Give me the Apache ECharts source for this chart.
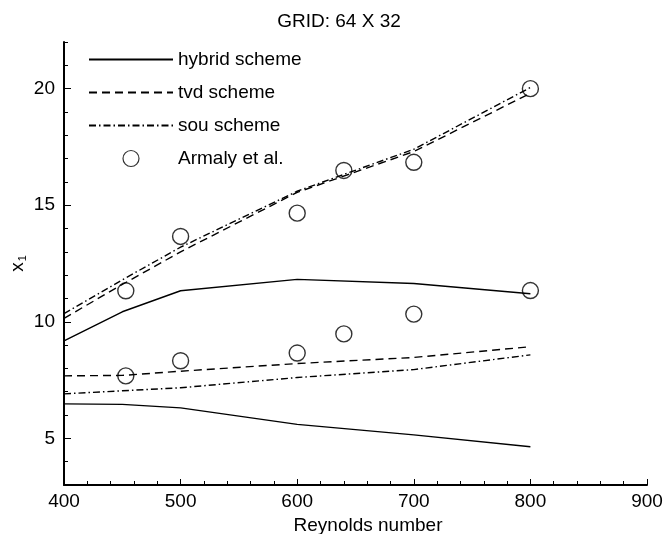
<!DOCTYPE html>
<html>
<head>
<meta charset="utf-8">
<script src="https://cdn.jsdelivr.net/npm/echarts@6/dist/echarts.min.js"></script>
<style>
  html, body { margin: 0; padding: 0; background: #fff; }
  #chart { width: 665px; height: 534px; }
</style>
</head>
<body>
<div id="chart"></div>
<script>
// Reynolds numbers of the computed curves
var reLine = [400, 450, 500, 600, 700, 800];
var hybridHigh = [9.18, 10.43, 11.33, 11.82, 11.64, 11.2];
var hybridLow = [6.48, 6.46, 6.31, 5.6, 5.15, 4.64];
var tvdHigh = [10.15, 11.6, 13.0, 15.55, 17.3, 19.8];
var tvdLow = [7.68, 7.7, 7.88, 8.21, 8.47, 8.93];
var souHigh = [10.35, 11.8, 13.2, 15.6, 17.4, 20.05];
var souLow = [6.91, 7.04, 7.17, 7.61, 7.95, 8.58];

// experiment (Armaly et al.)
var reArmaly = [453, 500, 600, 640, 700, 800];
var armalyHigh = [11.33, 13.66, 14.66, 16.49, 16.84, 20.0];
var armalyLow = [7.68, 8.33, 8.66, 9.48, 10.33, 11.34];

var yTicks = [5, 10, 15, 20];

function pairs(xs, ys) {
    var out = [];
    for (var i = 0; i < xs.length; i++) {
        out.push([xs[i], ys[i]]);
    }
    return out;
}

var font = 'Liberation Sans, Arial, Helvetica, sans-serif';

function lineSeries(name, ys, type) {
    return {
        name: name,
        type: 'line',
        data: pairs(reLine, ys),
        symbol: 'none',
        lineStyle: { color: '#000', width: 1.4, type: type },
        itemStyle: { color: '#000' },
        z: 3
    };
}

var myChart = echarts.init(document.getElementById('chart'));
myChart.setOption({
    animation: false,
    backgroundColor: '#fff',
    title: {
        text: 'GRID: 64 X 32',
        left: 334,
        textAlign: 'center',
        top: 7,
        textStyle: { fontFamily: font, fontSize: 19, fontWeight: 'normal', color: '#000' }
    },
    legend: {
        orient: 'vertical',
        left: 83,
        top: 45,
        itemWidth: 84,
        itemHeight: 16,
        itemGap: 14,
        textStyle: { fontFamily: font, fontSize: 19, lineHeight: 16, color: '#000' },
        data: [
            { name: 'hybrid scheme', itemStyle: { opacity: 0 } },
            { name: 'tvd scheme', itemStyle: { opacity: 0 } },
            { name: 'sou scheme', itemStyle: { opacity: 0 } },
            { name: 'Armaly et al.', itemStyle: { borderWidth: 1.2 } }
        ]
    },
    grid: { left: 64, right: 18, top: 42, bottom: 49, containLabel: false, outerBoundsMode: 'none' },
    xAxis: {
        type: 'value',
        min: 400,
        max: 900,
        interval: 100,
        name: 'Reynolds number',
        nameLocation: 'middle',
        nameGap: 31,
        nameMoveOverlap: false,
        nameTextStyle: { fontFamily: font, fontSize: 19, color: '#000', padding: [0, 0, 0, 25] },
        axisLine: { lineStyle: { color: '#000', width: 2 } },
        axisTick: { inside: true, length: 6, lineStyle: { color: '#000', width: 1 } },
        minorTick: { show: true, splitNumber: 5, length: 4, lineStyle: { color: '#000', width: 1 } },
        axisLabel: { fontFamily: font, fontSize: 19, color: '#000', margin: 7 },
        splitLine: { show: false }
    },
    yAxis: [{
        type: 'value',
        min: 3,
        max: 22,
        name: '{a|x}{b|1}',
        nameLocation: 'middle',
        nameRotate: 90,
        nameGap: 36,
        nameMoveOverlap: false,
        nameTextStyle: {
            rich: {
                a: { fontFamily: font, fontSize: 19, color: '#000' },
                b: { fontFamily: font, fontSize: 11, color: '#000', verticalAlign: 'bottom', padding: [9, 0, 0, 1] }
            }
        },
        axisLine: { show: true, lineStyle: { color: '#000', width: 2 } },
        axisTick: { inside: true, length: 7, customValues: yTicks, lineStyle: { color: '#000', width: 1 } },
        axisLabel: { fontFamily: font, fontSize: 19, color: '#000', margin: 9, customValues: yTicks },
        splitLine: { show: false }
    }, {
        type: 'value',
        position: 'left',
        min: 3,
        max: 22,
        interval: 1,
        axisLine: { show: false },
        axisTick: { show: true, inside: true, length: 4, lineStyle: { color: '#000', width: 1 } },
        axisLabel: { show: false },
        splitLine: { show: false }
    }],
    series: [
        lineSeries('hybrid scheme', hybridHigh, 'solid'),
        lineSeries('hybrid scheme', hybridLow, 'solid'),
        lineSeries('tvd scheme', tvdHigh, [8, 5]),
        lineSeries('tvd scheme', tvdLow, [8, 5]),
        lineSeries('sou scheme', souHigh, [7, 3, 1.5, 3]),
        lineSeries('sou scheme', souLow, [7, 3, 1.5, 3]),
        {
            name: 'Armaly et al.',
            type: 'scatter',
            data: pairs(reArmaly, armalyHigh).concat(pairs(reArmaly, armalyLow)),
            symbol: 'circle',
            symbolSize: 16,
            itemStyle: { color: 'rgba(255,255,255,0)', borderColor: '#000', borderWidth: 1.4 },
            z: 4
        }
    ]
});
</script>
</body>
</html>
